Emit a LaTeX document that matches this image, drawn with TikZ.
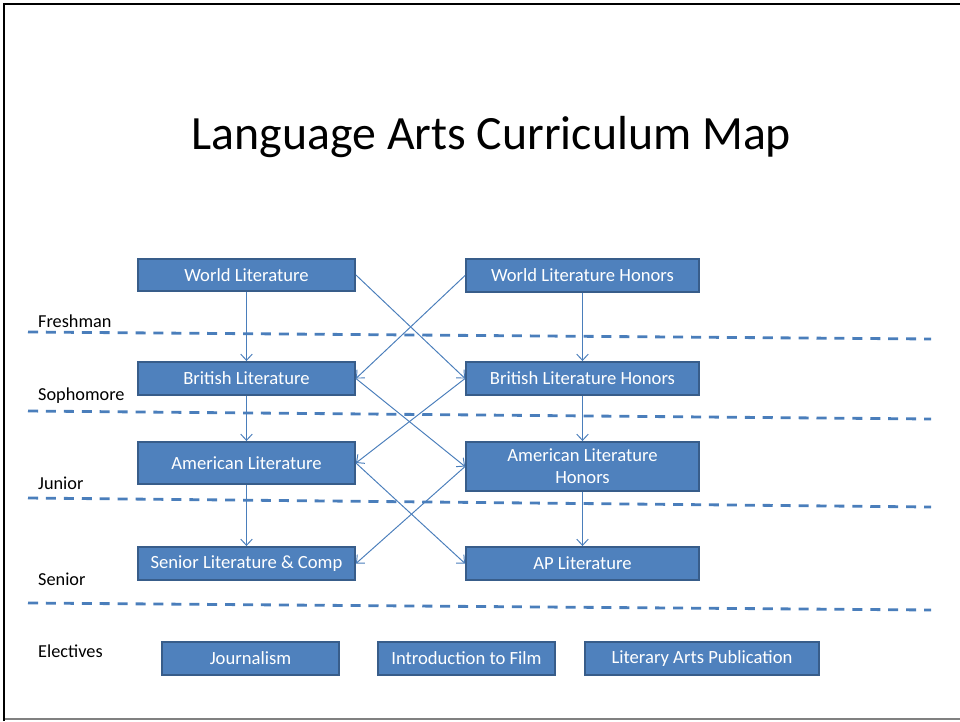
\documentclass[tikz,border=0pt]{standalone}
\usepackage{fontspec}
\setmainfont{Carlito}
\usetikzlibrary{arrows.meta}
\definecolor{boxfill}{RGB}{79,129,189}
\definecolor{boxedge}{RGB}{56,93,138}
\definecolor{pfeilblau}{RGB}{74,126,187}
\definecolor{framegrey}{RGB}{128,128,128}

\tikzset{
  course/.style={draw=boxedge, fill=boxfill, line width=1.1pt, text=white, inner sep=0pt,
    align=center, font=\fontsize{10.6}{12.6}\selectfont},
  year/.style={anchor=base west, font=\fontsize{10.4}{12.6}\selectfont},
  link/.style={pfeilblau, line width=0.55pt, -{Straight Barb[length=3.5pt,width=6.5pt]}},
  yearline/.style={pfeilblau, line width=1.6pt, dash pattern=on 5.7pt off 4.5pt}
}

\begin{document}
\begin{tikzpicture}[x=0.02cm, y=-0.02cm]
    \useasboundingbox (0,0) rectangle (960,721);

    % frame
    \draw[framegrey, line width=1.2pt] (4,719) -- (960,719);
    \draw[black, line width=1.4pt] (4,721) -- (4,4) -- (960,4);

    \node[anchor=base, font=\fontsize{27.2}{32}\selectfont] (title) at (491.5,149) {Language Arts Curriculum Map};

    % year separators
    \foreach \ya/\yb in {332/339, 411/419, 498/507, 603/610}{
        \draw[yearline] (28,\ya) -- (931,\yb);
    }
    \node[year] (fresh) at (32,327) {Freshman};
    \node[year] (soph) at (32,400) {Sophomore};
    \node[year] (jun) at (32,489) {Junior};
    \node[year] (sen) at (32,585) {Senior};
    \node[year] (elect) at (32,657) {Electives};

    % courses
    \node[course, minimum width=4.34cm, minimum height=0.64cm] (world) at (246.5,275) {World Literature};
    \node[course, minimum width=4.66cm, minimum height=0.66cm] (worldh) at (582.5,275.5) {World Literature Honors};
    \node[course, minimum width=4.34cm, minimum height=0.66cm] (brit) at (246.5,378.5) {British Literature};
    \node[course, minimum width=4.66cm, minimum height=0.66cm] (brith) at (582.5,378.5) {British Literature Honors};
    \node[course, minimum width=4.34cm, minimum height=0.84cm] (amer) at (246.5,463) {American Literature};
    \node[course, minimum width=4.66cm, minimum height=0.98cm] (amerh) at (582.5,466.5) {American Literature\\Honors};
    \node[course, minimum width=4.34cm, minimum height=0.66cm] (senior) at (246.5,563.5) {Senior Literature \& Comp};
    \node[course, minimum width=4.66cm, minimum height=0.66cm] (ap) at (582.5,563.5) {AP Literature};

    \node[course, minimum width=3.54cm, minimum height=0.66cm] (journ) at (250.5,658.5) {Journalism};
    \node[course, minimum width=3.54cm, minimum height=0.66cm] (film) at (466.5,658.5) {Introduction to Film};
    \node[course, minimum width=4.68cm, minimum height=0.66cm] (litpub) at (702,658.5) {Literary Arts Publication};

    % paths
    \draw[link] (world.south) -- (brit.north);
    \draw[link] (worldh.south) -- (brith.north);
    \draw[link] (world.east) -- (brith.west);
    \draw[link] (worldh.west) -- (brit.east);

    \draw[link] (brit.south) -- (amer.north);
    \draw[link] (brith.south) -- (amerh.north);
    \draw[link] (brit.east) -- (amerh.west);
    \draw[link] (brith.west) -- (amer.east);

    \draw[link] (amer.south) -- (senior.north);
    \draw[link] (amerh.south) -- (ap.north);
    \draw[link] (amer.east) -- (ap.west);
    \draw[link] (amerh.west) -- (senior.east);

\end{tikzpicture}
\end{document}
